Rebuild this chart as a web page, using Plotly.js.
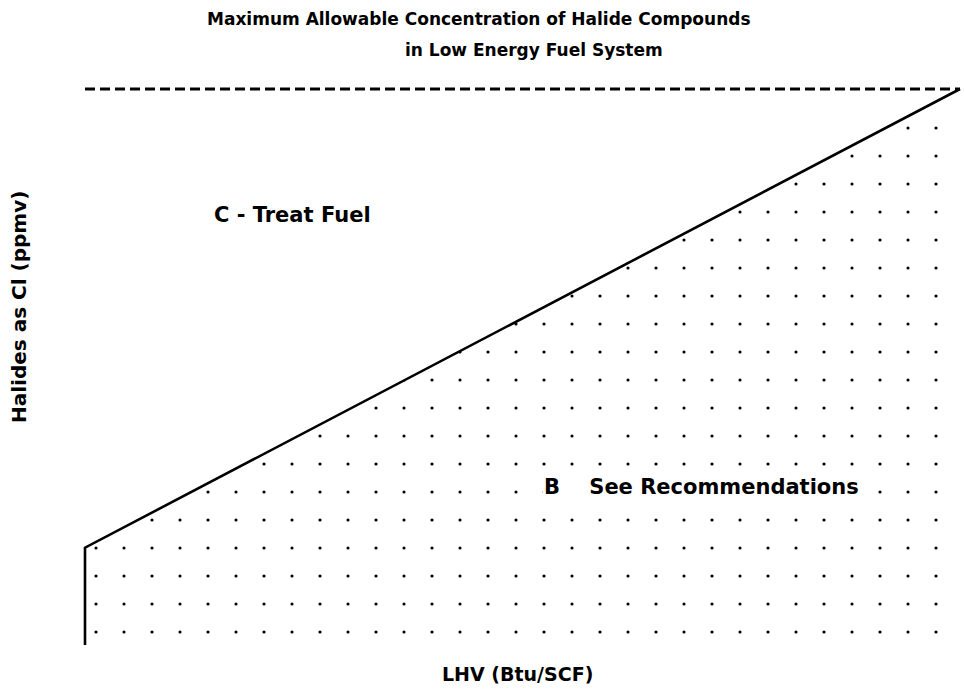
<!DOCTYPE html>
<html>
<head>
<meta charset="utf-8">
<script src="https://cdn.plot.ly/plotly-3.0.1.min.js"></script>
<style>html,body{margin:0;padding:0;background:#fff;}#chart{width:964px;height:689px;}</style>
</head>
<body>
<div id="chart"></div>
<script>
// LHV (Btu/SCF) and halide limit (ppmv as Cl) — illustrative values
var lhv = [100, 100, 300];
var halideLimit = [0, 17.5, 100];
var maxLhv = [100, 300];
var maxLevel = [100, 100];

var titleLine1 = "Maximum Allowable Concentration of Halide Compounds";
var titleLine2 = "in Low Energy Fuel System";
var xTitle = "LHV (Btu/SCF)";
var yTitle = "Halides as Cl (ppmv)";
var zoneC = "C - Treat Fuel";
var zoneB = "B\u00a0\u00a0\u00a0\u00a0See Recommendations";

var font = "'DejaVu Sans', sans-serif";

// pixel geometry helpers: plot area spans x 82..964, y 86..645
var PX = {l: 82, r: 0, t: 86, b: 44};
var plotW = 964 - PX.l - PX.r, plotH = 689 - PX.t - PX.b;
function px(x) { return (x - PX.l) / plotW; }
function py(y) { return (689 - PX.b - y) / plotH; }

var traces = [
  {
    x: lhv, y: halideLimit, type: "scatter", mode: "lines",
    line: {color: "black", width: 2.6},
    fill: "tozeroy",
    fillcolor: "rgba(0,0,0,0)",
    fillpattern: {shape: ".", size: 28, solidity: 0.01, fgcolor: "black", bgcolor: "white"},
    hoverinfo: "skip", showlegend: false
  },
  {
    x: maxLhv, y: maxLevel, type: "scatter", mode: "lines",
    line: {color: "black", width: 3, dash: "10px,5px"},
    hoverinfo: "skip", showlegend: false
  }
];

var layout = {
  width: 964, height: 689,
  margin: PX,
  paper_bgcolor: "white", plot_bgcolor: "white",
  showlegend: false,
  font: {family: font, color: "black", size: 16},
  xaxis: {range: [100 - 3 * 200 / 875, 100 + plotW * 200 / 875 - 3 * 200 / 875], showgrid: false, zeroline: false, showline: false, showticklabels: false, ticks: ""},
  yaxis: {range: [0, plotH * 100 / 556], showgrid: false, zeroline: false, showline: false, showticklabels: false, ticks: ""},
  annotations: [
    {text: titleLine1, xref: "paper", yref: "paper", x: px(479), y: py(19), xanchor: "center", yanchor: "middle", showarrow: false, font: {size: 17, family: font, weight: "bold"}},
    {text: titleLine2, xref: "paper", yref: "paper", x: px(534), y: py(50), xanchor: "center", yanchor: "middle", showarrow: false, font: {size: 17, family: font, weight: "bold"}},
    {text: xTitle, xref: "paper", yref: "paper", x: px(517), y: py(674), xanchor: "center", yanchor: "middle", showarrow: false, font: {size: 19, family: font, weight: "bold"}},
    {text: yTitle, xref: "paper", yref: "paper", x: px(19), y: py(307), xanchor: "center", yanchor: "middle", textangle: -90, showarrow: false, font: {size: 20, family: font, weight: "bold"}},
    {text: zoneC, xref: "paper", yref: "paper", x: px(292), y: py(215), xanchor: "center", yanchor: "middle", showarrow: false, font: {size: 21, family: font, weight: "bold"}},
    {text: zoneB, xref: "paper", yref: "paper", x: px(701), y: py(487), xanchor: "center", yanchor: "middle", showarrow: false, bgcolor: "white", font: {size: 21, family: font, weight: "bold"}}
  ]
};

Plotly.newPlot("chart", traces, layout, {displayModeBar: false, staticPlot: true});
</script>
</body>
</html>
